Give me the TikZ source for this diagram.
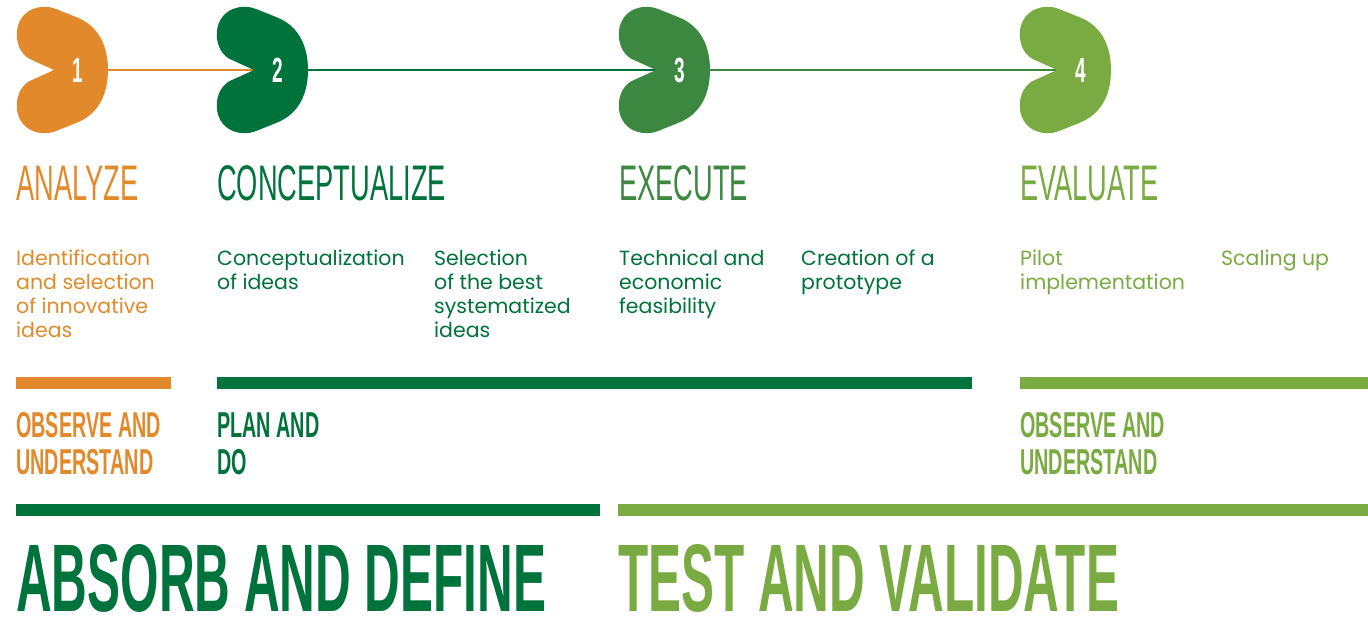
\documentclass[tikz,border=0pt]{standalone}
\usepackage{fontspec}
\usepackage{tikz}
\newfontfamily\bodyfont{Poppins}
\newfontfamily\titlefont[FakeStretch=0.545]{Liberation Sans}
\newfontfamily\headfont[FakeStretch=0.55]{Liberation Sans}
\newfontfamily\bigfont[FakeStretch=0.515]{Liberation Sans}
\definecolor{orangeA}{RGB}{226,138,43}
\definecolor{greenB}{RGB}{0,114,60}
\definecolor{greenC}{RGB}{60,136,65}
\definecolor{greenD}{RGB}{122,170,66}
\tikzset{
  stage/.pic = {
    \fill[pic actions] (-24,0) -- (-46,-10)
      .. controls (-65,-17) and (-68,-52) .. (-45,-61)
      .. controls (-37,-64) and (-30,-64) .. (-22,-61) -- (-2,-53)
      .. controls (22,-44) and (30,-22) .. (30,0)
      .. controls (30,22) and (22,44) .. (-2,53) -- (-22,61)
      .. controls (-30,64) and (-37,64) .. (-45,61)
      .. controls (-68,52) and (-65,17) .. (-46,10) -- cycle;
  },% petal shape round a step number
  link/.style = {line width=1.5pt},
  num/.style = {white, inner sep=0pt,
    font=\titlefont\bfseries\fontsize{35}{35}\selectfont},
  title/.style = {anchor=base west, inner sep=0pt,
    font=\titlefont\fontsize{50}{50}\selectfont},
  txt/.style = {anchor=base west, inner sep=0pt, align=left,
    font=\bodyfont\fontsize{20.5}{24}\selectfont},% base = last line
  head/.style = {anchor=base west, inner sep=0pt, align=left,
    font=\headfont\bfseries\fontsize{36}{37}\selectfont},
  big/.style = {anchor=base west, inner sep=0pt,
    font=\bigfont\bfseries\fontsize{96}{96}\selectfont}
}
\begin{document}
\begin{tikzpicture}[x=1pt,y=-1pt]
\useasboundingbox (0,0) rectangle (1368,616);
% step centres
\coordinate (s1) at (78,70);
\coordinate (s2) at (278,70);
\coordinate (s3) at (680,70);
\coordinate (s4) at (1081,70);
\draw[link, orangeA] (s1) -- (s2);
\draw[link, greenB] (s2) -- (s3);
\draw[link, greenC] (s3) -- (s4);
\pic[fill=orangeA] at (s1) {stage};
\pic[fill=greenB] at (s2) {stage};
\pic[fill=greenC] at (s3) {stage};
\pic[fill=greenD] at (s4) {stage};
\node[num] (n1) at (s1) {1};
\node[num] (n2) at (s2) {2};
\node[num] (n3) at (s3) {3};
\node[num] (n4) at (s4) {4};
% titles
\node[title, orangeA] (analyze) at (16,200) {ANALYZE};
\node[title, greenB] (concept) at (217,200) {CONCEPTUALIZE};
\node[title, greenC] (execute) at (619,200) {EXECUTE};
\node[title, greenD] (evaluate) at (1020,200) {EVALUATE};
% activities
\node[txt, orangeA] (t1) at (16,337) {Identification\\and selection\\of innovative\\ideas};
\node[txt, greenB] (t2) at (217,289) {Conceptualization\\of ideas};
\node[txt, greenB] (t3) at (434,337) {Selection\\of the best\\systematized\\ideas};
\node[txt, greenB] (t4) at (619,313) {Technical and\\economic\\feasibility};
\node[txt, greenB] (t5) at (801,289) {Creation of a\\prototype};
\node[txt, greenD] (t6) at (1020,289) {Pilot\\implementation};
\node[txt, greenD] (t7) at (1221,265) {Scaling up};
% bars
\fill[orangeA] (16,377) rectangle (171,389);
\fill[greenB] (217,377) rectangle (972,389);
\fill[greenD] (1020,377) rectangle (1368,389);
\node[head, orangeA] (h1) at (16,474) {OBSERVE AND\\UNDERSTAND};
\node[head, greenB] (h2) at (217,474) {PLAN AND\\DO};
\node[head, greenD] (h3) at (1020,474) {OBSERVE AND\\UNDERSTAND};
\fill[greenB] (16,504) rectangle (600,516);
\fill[greenD] (618,504) rectangle (1368,516);
\node[big, greenB] (absorb) at (16,611) {ABSORB AND DEFINE};
\node[big, greenD] (test) at (618,611) {TEST AND VALIDATE};
\end{tikzpicture}
\end{document}
